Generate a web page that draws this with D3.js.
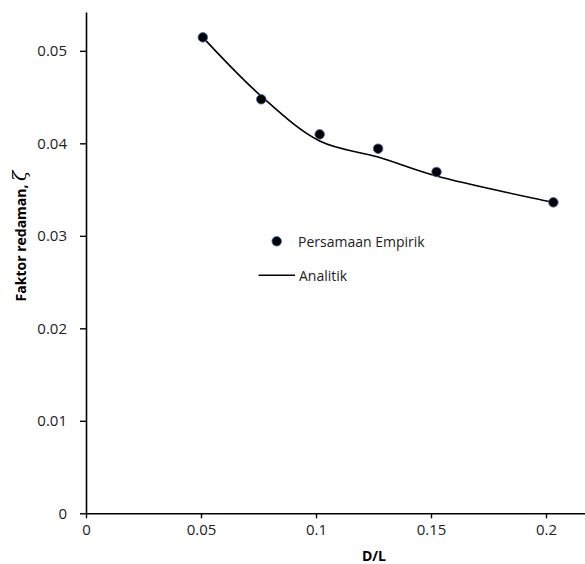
<!DOCTYPE html>
<html><head><meta charset="utf-8">
<script src="https://cdn.jsdelivr.net/npm/d3@7"></script>
<style>body{margin:0;background:#fff}svg{display:block}</style>
</head><body>
<svg id="c" width="585" height="564"></svg>
<script>
const dl = [0.0508, 0.0762, 0.1016, 0.127, 0.1524, 0.2032];
const empirik = [0.05146, 0.04476, 0.04097, 0.03942, 0.0369, 0.03362];
const analitik = [0.05146, 0.0451, 0.04025, 0.03852, 0.03646, 0.03362];
const xTicks = [0, 0.05, 0.1, 0.15, 0.2];
const yTicks = [0, 0.01, 0.02, 0.03, 0.04, 0.05];
const legendLabels = ["Persamaan Empirik", "Analitik"];

const font = "'Open Sans', sans-serif";
const svg = d3.select("#c");
const x = d3.scaleLinear().domain([0, 0.25]).range([86, 661]);
const y = d3.scaleLinear().domain([0, 0.0542]).range([513.3, 12]);

// axes
const xa = svg.append("g").attr("transform", "translate(0,513.3)")
  .call(d3.axisBottom(x).tickValues(xTicks).tickSize(5).tickPadding(6).tickFormat(d => String(d)).tickSizeOuter(0));
const ya = svg.append("g").attr("transform", "translate(86,0)")
  .call(d3.axisLeft(y).tickValues(yTicks).tickSize(6).tickPadding(13).tickFormat(d => String(d)).tickSizeOuter(0));
[xa, ya].forEach(a => {
  a.select(".domain").attr("stroke", "#000").attr("stroke-width", 1.6);
  a.selectAll(".tick line").attr("stroke", "#000").attr("stroke-width", 1.4);
  a.selectAll("text").attr("font-family", font).attr("font-size", 15).attr("fill", "#222");
});

// analytic line
svg.append("path").datum(dl.map((d, i) => [d, analitik[i]]))
  .attr("fill", "none").attr("stroke", "#000").attr("stroke-width", 1.6)
  .attr("d", d3.line().x(d => x(d[0])).y(d => y(d[1])).curve(d3.curveCatmullRom.alpha(0.5)));

// empirical points
svg.append("g").selectAll("circle").data(dl).join("circle")
  .attr("cx", d => x(d)).attr("cy", (d, i) => y(empirik[i])).attr("r", 4.8)
  .attr("fill", "#000").attr("stroke", "#4472C4").attr("stroke-width", 0.8);

// legend
svg.append("circle").attr("cx", 276.7).attr("cy", 241.3).attr("r", 4.8)
  .attr("fill", "#000").attr("stroke", "#4472C4").attr("stroke-width", 0.8);
svg.append("text").attr("x", 298).attr("y", 246.5).text(legendLabels[0])
  .attr("font-family", font).attr("font-size", 14).attr("fill", "#222");
svg.append("line").attr("x1", 258.5).attr("x2", 295).attr("y1", 275.3).attr("y2", 275.3)
  .attr("stroke", "#000").attr("stroke-width", 1.6);
svg.append("text").attr("x", 299).attr("y", 280.5).text(legendLabels[1])
  .attr("font-family", font).attr("font-size", 14).attr("fill", "#222");

// axis titles
svg.append("text").attr("x", 374).attr("y", 561).attr("text-anchor", "middle")
  .attr("font-family", font).attr("font-size", 14).attr("font-weight", "bold").text("D/L");
const yt = svg.append("text").attr("transform", "translate(26,236) rotate(-90)").attr("text-anchor", "middle")
  .attr("font-family", font).attr("font-size", 14).attr("font-weight", "bold");
yt.append("tspan").text("Faktor redaman, ");
yt.append("tspan").attr("font-size", 19).attr("font-style", "italic").attr("font-family", "'DejaVu Serif', serif").attr("font-weight", "normal").text("ζ");
</script>
</body></html>
